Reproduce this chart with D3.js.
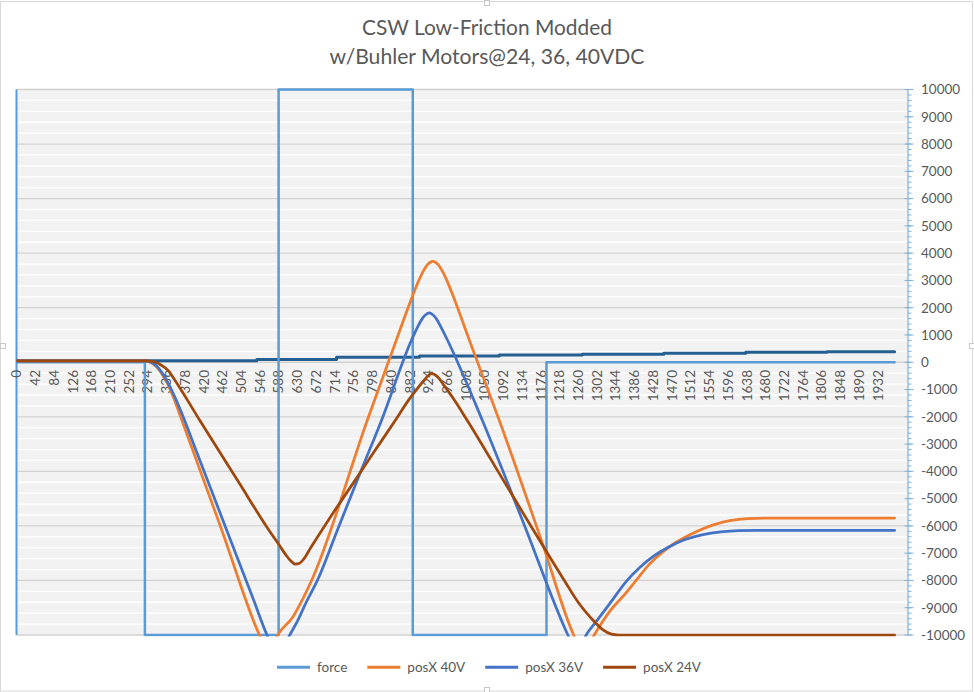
<!DOCTYPE html>
<html><head><meta charset="utf-8">
<script src="https://cdn.jsdelivr.net/npm/d3@7"></script>
<style>
body{margin:0;background:#fff}
text{font-family:Lato,"Open Sans",sans-serif;fill:#595959}
</style>
</head><body>
<svg id="c" width="974" height="692"></svg>
<script>
// ---------- data ----------
const titleLines = ["CSW Low-Friction Modded", "w/Buhler Motors@24, 36, 40VDC"];
const seriesNames = ["force", "posX 40V", "posX 36V", "posX 24V"];
const xTickLabels = [0,42,84,126,168,210,252,294,336,378,420,462,504,546,588,630,672,714,756,798,840,882,924,966,1008,1050,1092,1134,1176,1218,1260,1302,1344,1386,1428,1470,1512,1554,1596,1638,1680,1722,1764,1806,1848,1890,1932];
const yTickValues = [-10000,-9000,-8000,-7000,-6000,-5000,-4000,-3000,-2000,-1000,0,1000,2000,3000,4000,5000,6000,7000,8000,9000,10000];

// [sample index, value]
const force = [[0,0],[288,-10000],[588,10000],[889,-10000],[1189,0],[1970,0]];
const posX40 = [[0,55],[280,55],[290,50],[300,0],[310,-100],[320,-280],[330,-530],[340,-830],[350,-1200],[371,-2125],[460,-6130],[545,-10000],[566,-10700],[588,-9950],[620,-9340],[640,-8750],[662,-8000],[787,-2125],[852,806],[870,1620],[885,2280],[900,2900],[912,3320],[922,3580],[934,3700],[946,3580],[956,3320],[968,2900],[983,2280],[998,1620],[1016,806],[1083,-2125],[1180,-6650],[1250,-10000],[1272,-10700],[1296,-10000],[1330,-9150],[1365,-8500],[1390,-8000],[1420,-7400],[1450,-6950],[1480,-6600],[1520,-6250],[1560,-5980],[1600,-5810],[1640,-5730],[1680,-5714],[1970,-5714]];
const posX36 = [[0,55],[285,55],[290,50],[300,10],[310,-80],[320,-240],[330,-470],[340,-760],[350,-1090],[360,-1450],[377,-2125],[402,-3200],[532,-8718],[562,-10000],[588,-10800],[613,-10000],[630,-9500],[650,-8800],[675,-8000],[720,-6150],[770,-4100],[819,-2125],[886,806],[900,1300],[910,1590],[918,1740],[926,1810],[934,1740],[942,1590],[952,1300],[967,806],[1045,-2125],[1140,-6000],[1237,-10000],[1258,-10700],[1278,-10000],[1300,-9520],[1330,-8870],[1370,-8000],[1400,-7500],[1430,-7100],[1460,-6800],[1500,-6500],[1540,-6320],[1580,-6220],[1620,-6175],[1660,-6168],[1970,-6168]];
const posX24 = [[0,55],[295,55],[305,35],[315,-20],[325,-110],[340,-300],[355,-650],[411,-2125],[500,-4440],[560,-6000],[590,-6720],[605,-7080],[615,-7280],[625,-7400],[635,-7370],[645,-7200],[660,-6800],[700,-5780],[750,-4560],[800,-3340],[850,-2125],[880,-1380],[900,-950],[915,-650],[931,-420],[946,-560],[960,-870],[980,-1330],[1011,-2125],[1100,-4540],[1229,-8000],[1260,-8800],[1290,-9400],[1315,-9800],[1335,-9970],[1350,-10000],[1970,-10000]];
const posXBase = [[0,58],[539,100],[718,183],[904,230],[1083,267],[1269,290],[1452,330],[1636,366],[1818,388],[1970,388]];

// ---------- styles ----------
const colors = {force:"#5b9bd5", p40:"#ed7d31", p36:"#4472c4", p24:"#9e480e", base:"#255e91"};

const svg = d3.select("#c");
const W = 974, H = 692;
const L = 16.5, R = 908, T = 89.5, B = 635;

const x = d3.scaleLinear().domain([0, 2000]).range([L, R]);
const y = d3.scaleLinear().domain([-10000, 10000]).range([B, T]);

// outer border
svg.append("rect").attr("x",0.5).attr("y",1.5).attr("width",W-2).attr("height",H-2.5)
  .attr("fill","#fff").attr("stroke","#d9d9d9");

// plot background
svg.append("rect").attr("x",L).attr("y",T).attr("width",R-L).attr("height",B-T).attr("fill","#f2f2f2");

// minor (white) gridlines
const g = svg.append("g");
g.selectAll("line.mn").data(d3.range(-10000, 10001, 400)).join("line")
  .attr("x1",L).attr("x2",R).attr("y1",d=>y(d)).attr("y2",d=>y(d))
  .attr("stroke","#ffffff").attr("stroke-width",1.3);
g.selectAll("line.mj").data(d3.range(-10000, 10001, 2000)).join("line")
  .attr("x1",L).attr("x2",R).attr("y1",d=>y(d)).attr("y2",d=>y(d))
  .attr("stroke","#d0d0d0").attr("stroke-width",1.3);

// clip
svg.append("clipPath").attr("id","pc").append("rect")
  .attr("x",L).attr("y",T-1.5).attr("width",R-L).attr("height",B-T+3);

// left axis line
svg.append("line").attr("x1",L).attr("x2",L).attr("y1",T).attr("y2",B)
  .attr("stroke",colors.force).attr("stroke-width",2);

// x tick labels
svg.append("g").selectAll("text").data(xTickLabels).join("text")
  .attr("transform", d => `translate(${x(d)},370) rotate(-90)`)
  .attr("text-anchor","end").attr("dy","0.36em")
  .attr("font-size",13.5).text(d=>d);

// series
const lineStep = d3.line().x(d=>x(d[0])).y(d=>y(d[1])).curve(d3.curveStepAfter);
const lineSmooth = d3.line().x(d=>x(d[0])).y(d=>y(d[1])).curve(d3.curveMonotoneX);
const lines = svg.append("g").attr("clip-path","url(#pc)");
const draw = (data, gen, col, w) => lines.append("path").attr("d", gen(data))
  .attr("fill","none").attr("stroke",col).attr("stroke-width",w)
  .attr("stroke-linejoin","round").attr("stroke-linecap","round");
draw(posXBase, lineStep, colors.base, 3);
draw(force, lineStep, colors.force, 2.5);
draw(posX40, lineSmooth, colors.p40, 2.75);
draw(posX36, lineSmooth, colors.p36, 2.75);
draw(posX24, lineSmooth, colors.p24, 2.75);

// right axis
const ax = svg.append("g");
ax.append("line").attr("x1",R).attr("x2",R).attr("y1",T).attr("y2",B)
  .attr("stroke","#7fb0dc").attr("stroke-width",1.2);
ax.selectAll("line.mi").data(d3.range(-10000, 10001, 200)).join("line")
  .attr("x1",R).attr("x2",R+3.5).attr("y1",d=>y(d)).attr("y2",d=>y(d))
  .attr("stroke","#7fb0dc").attr("stroke-width",1);
ax.selectAll("line.ma").data(yTickValues).join("line")
  .attr("x1",R-3.5).attr("x2",R+5.5).attr("y1",d=>y(d)).attr("y2",d=>y(d))
  .attr("stroke","#7fb0dc").attr("stroke-width",1);
ax.selectAll("text").data(yTickValues).join("text")
  .attr("x", 921).attr("y", d=>y(d)).attr("dy","0.36em")
  .attr("font-size",13.5).text(d=>d);

// title (fit widths)
const tt = svg.append("g");
const tBase = [35, 64], tWidth = [250, 315];
titleLines.forEach((s,i)=>{
  const t = tt.append("text").attr("x",487).attr("y",tBase[i]).attr("text-anchor","middle")
    .attr("font-size",20).text(s);
  const w = t.node().getComputedTextLength();
  t.attr("font-size", 20*tWidth[i]/w);
});

// legend
const legCols = [colors.force, colors.p40, colors.p36, colors.p24];
const lg = svg.append("g");
let cx = 0;
const items = [];
seriesNames.forEach((n,i)=>{
  const it = lg.append("g");
  it.append("line").attr("x1",cx).attr("x2",cx+33).attr("y1",667.3).attr("y2",667.3)
    .attr("stroke",legCols[i]).attr("stroke-width",3);
  const t = it.append("text").attr("x",cx+40).attr("y",672).attr("font-size",13.5).text(n);
  cx += 40 + t.node().getComputedTextLength() + 20;
});
const totalW = cx - 20;
lg.attr("transform",`translate(${489 - totalW/2},0)`);

// selection handles
[[0,343],[969,343],[484,0],[484,687]].forEach(p=>{
  svg.append("rect").attr("x",p[0]+0.5).attr("y",p[1]+0.5).attr("width",5).attr("height",5)
    .attr("fill","#fff").attr("stroke","#c8c8c8");
});
</script>
</body></html>
